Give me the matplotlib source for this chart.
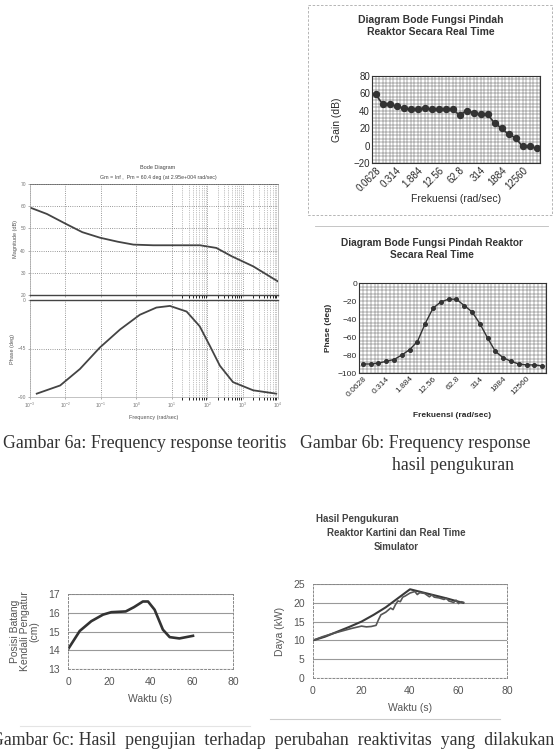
import matplotlib
matplotlib.use("Agg")
import matplotlib.pyplot as plt
from matplotlib.lines import Line2D
from matplotlib.ticker import LogLocator, MultipleLocator, FixedLocator, NullFormatter

W, H = 555, 749

# --- Gambar 6a: theoretical Bode diagram
mag_w = [0.001, 0.003, 0.011, 0.03, 0.095, 0.3, 0.83, 3, 10, 63, 182, 500, 2000, 10000]
mag_db = [59.4, 56.5, 51.8, 48.3, 45.8, 44.0, 42.7, 42.4, 42.4, 42.4, 41.2, 37.4, 32.9, 26.1]
ph_w = [0.00155, 0.0071, 0.0257, 0.093, 0.347, 1.26, 3.7, 8.9, 26.3, 61.7, 120, 229, 537, 1995, 8913]
ph_deg = [-86.9, -79.3, -64.0, -44.2, -27.4, -13.7, -7.0, -5.5, -10.7, -24.4, -42.7, -61.0, -76.2, -83.8, -86.9]

# --- Gambar 6b: measured Bode diagram (Excel category axis)
freq_labels = ["0.0628", "0.1256", "0.1884", "0.314", "0.628", "1.256", "1.884", "3.14",
               "6.28", "12.56", "18.84", "31.4", "62.8", "125.6", "188.4", "314",
               "628", "1256", "1884", "3140", "6280", "12560", "18840", "31400"]
gain_db = [59, 48, 48, 45, 43, 42, 42, 43, 42, 42, 42, 42,
           35, 40, 38, 36, 36, 26, 20, 13, 9, -1, -1, -3]
phase_deg = [-90, -90, -89, -87, -85, -80, -74, -65, -45, -28, -21, -18,
             -18, -25, -32, -45, -61, -76, -83, -87, -90, -91, -91, -92]

# --- Gambar 6c: control rod position and power
rod_t = [0, 5.7, 11.3, 17, 21, 28, 32, 36.3, 38.8, 42, 46, 49.3, 54, 60.6]
rod_cm = [14.05, 15.03, 15.55, 15.9, 16.03, 16.07, 16.3, 16.6, 16.6, 16.16, 15.1, 14.7, 14.63, 14.77]

sim_t = [0, 5, 10, 15, 20, 25, 30, 35, 40, 45, 50, 55, 60, 62]
sim_kw = [10, 11, 12.3, 13.6, 15, 16.8, 18.8, 21.2, 23.6, 22.8, 22, 21.2, 20.3, 20]
meas_t = [0, 4, 8, 12, 16, 20, 22, 24, 26, 27, 28, 30, 32, 33, 34, 35, 36, 37, 38, 40,
          42, 43, 44, 46, 48, 49, 50, 52, 54, 55, 56, 58, 59, 60, 61, 62]
meas_kw = [10, 11, 11.8, 12.5, 13.2, 13.8, 13.6, 13.7, 14, 15.5, 16.8, 17.5, 18.6, 18.2, 19.5,
           20.5, 20.3, 21.5, 21.8, 22.6, 23, 22.2, 22.7, 22.5, 21.6, 22.1, 21.5, 21.3, 20.9,
           21.2, 20.5, 20.1, 20.7, 19.8, 20.3, 20.1]


def box(l, t, r, b):
    return [l / W, 1 - b / H, (r - l) / W, (b - t) / H]


def ftext(x, y, s, **kw):
    fig.text(x / W, 1 - y / H, s, **kw)


def fline(xs, ys, **kw):
    fig.add_artist(Line2D([x / W for x in xs], [1 - y / H for y in ys],
                          transform=fig.transFigure, **kw))


plt.rcParams["font.family"] = ["Liberation Sans", "DejaVu Sans"]
fig = plt.figure(figsize=(W / 100, H / 100), dpi=100)
ink = "#2a2a2a"

# dense minor grid only on the right-hand decades, like the scanned plot
minor_w = [k * 10.0 ** e for e in (1, 2, 3) for k in range(2, 10)]

# ---------------- 6a ----------------
ax1 = fig.add_axes(box(30, 184, 278, 295))
ax1.semilogx(mag_w, mag_db, color="#444", lw=1.3)
ax1.set_xlim(1e-3, 1e4)
ax1.set_ylim(20, 70)
ax1.yaxis.set_major_locator(MultipleLocator(10))
ax1.xaxis.set_major_locator(LogLocator(base=10, numticks=12))
ax1.xaxis.set_minor_locator(FixedLocator(minor_w))
ax1.xaxis.set_major_formatter(NullFormatter())
ax1.xaxis.set_minor_formatter(NullFormatter())
ax1.set_ylabel("Magnitude (dB)", fontsize=4, color="#555", labelpad=2)

ax2 = fig.add_axes(box(30, 300, 278, 397))
ax2.semilogx(ph_w, ph_deg, color="#444", lw=1.3)
ax2.set_xlim(1e-3, 1e4)
ax2.set_ylim(-90, 0)
ax2.yaxis.set_major_locator(MultipleLocator(45))
ax2.xaxis.set_major_locator(LogLocator(base=10, numticks=12))
ax2.xaxis.set_minor_locator(FixedLocator(minor_w))
ax2.xaxis.set_minor_formatter(NullFormatter())
ax2.set_ylabel("Phase (deg)", fontsize=4, color="#555", labelpad=2)
ax2.set_xlabel("Frequency (rad/sec)", fontsize=4, color="#555", labelpad=3)

for a in (ax1, ax2):
    a.grid(which="major", linestyle=":", color="#777", lw=0.6)
    a.grid(which="minor", axis="x", linestyle=":", color="#888", lw=0.5)
    a.tick_params(labelsize=3.5, colors="#777", length=1.5, width=0.4, pad=1.5)
    for s in a.spines.values():
        s.set_color("#aaa")
        s.set_linewidth(0.5)
ax1.spines["top"].set_linestyle((0, (2, 1)))
ax1.spines["top"].set_color("#555")
ax1.spines["bottom"].set_linestyle((0, (2, 1)))
ax1.spines["bottom"].set_color("#444")
ax1.spines["bottom"].set_linewidth(1.0)
ax2.spines["top"].set_linestyle((0, (2, 1)))
ax2.spines["top"].set_color("#444")
ax2.spines["top"].set_linewidth(1.0)

ftext(158, 168, "Bode Diagram", fontsize=4, ha="center", va="center", color="#444")
ftext(158, 177, "Gm = Inf ,  Pm = 60.4 deg (at 2.95e+004 rad/sec)",
      fontsize=3.8, ha="center", va="center", color="#444")

# ---------------- 6b gain ----------------
cats = list(range(len(freq_labels)))
ax3 = fig.add_axes(box(372, 76, 540, 163))
ax3.plot(cats, gain_db, color="#333", lw=1.2, marker="o", ms=4.3, mfc="#333", mec="#333")
ax3.set_xlim(-0.5, len(cats) - 0.5)
ax3.set_ylim(-20, 80)
ax3.yaxis.set_major_locator(MultipleLocator(20))
ax3.yaxis.set_minor_locator(MultipleLocator(4))
ax3.xaxis.set_major_locator(FixedLocator(cats[::3]))
ax3.set_xticklabels(freq_labels[::3], rotation=45, ha="right", rotation_mode="anchor")
ax3.xaxis.set_minor_locator(MultipleLocator(0.5))
ax3.set_ylabel("Gain (dB)", fontsize=7.5, color=ink, labelpad=8)
ax3.set_xlabel("Frekuensi (rad/sec)", fontsize=7.5, color=ink, labelpad=1)
ftext(431, 26, "Diagram Bode Fungsi Pindah\nReaktor Secara Real Time",
      fontsize=7.5, fontweight="bold", color="#333", ha="center", va="center",
      linespacing=1.15)

# ---------------- 6b phase ----------------
ax4 = fig.add_axes(box(359, 283, 546, 373))
ax4.plot(cats, phase_deg, color="#333", lw=1.0, marker="o", ms=2.6, mfc="#333", mec="#333")
ax4.set_xlim(-0.5, len(cats) - 0.5)
ax4.set_ylim(-100, 0)
ax4.yaxis.set_major_locator(MultipleLocator(20))
ax4.yaxis.set_minor_locator(MultipleLocator(4))
ax4.xaxis.set_major_locator(FixedLocator(cats[::3]))
ax4.set_xticklabels(freq_labels[::3], rotation=45, ha="right", rotation_mode="anchor")
ax4.xaxis.set_minor_locator(MultipleLocator(0.5))
ax4.set_ylabel("Phase (deg)", fontsize=6, fontweight="bold", color=ink, labelpad=4)
ax4.set_xlabel("Frekuensi (rad/sec)", fontsize=6, fontweight="bold", color=ink, labelpad=10)
ftext(432, 249, "Diagram Bode Fungsi Pindah Reaktor\nSecara Real Time",
      fontsize=7.3, fontweight="bold", color="#333", ha="center", va="center",
      linespacing=1.2)

for a, fs in ((ax3, 7), (ax4, 6)):
    a.grid(which="both", color="#555", lw=0.35)
    a.set_axisbelow(True)
    a.tick_params(which="both", labelsize=fs, colors=ink, length=0, pad=1.5)
    for s in a.spines.values():
        s.set_color("#333")
        s.set_linewidth(0.8)

fline([308, 552, 552, 308, 308], [5, 5, 215, 215, 5], color="#aaa", lw=0.6, ls=(0, (3, 2)))
fline([315, 548], [226, 226], color="#bbb", lw=0.6)

# ---------------- captions ----------------
serif = ["Liberation Serif", "DejaVu Serif"]
ftext(3, 443, "Gambar 6a: Frequency response teoritis", family=serif, fontsize=12.8,
      va="center", ha="left", color="#333")
ftext(300, 443, "Gambar 6b: Frequency response", family=serif, fontsize=12.8,
      va="center", ha="left", color="#333")
ftext(392, 465, "hasil pengukuran", family=serif, fontsize=12.8,
      va="center", ha="left", color="#333")
ftext(-9, 732, "Gambar 6c: Hasil  pengujian  terhadap  perubahan  reaktivitas  yang  dilakukan  terhadap",
      family=serif, fontsize=12.8, va="top", ha="left", color="#333")

# ---------------- 6c rod position ----------------
ax5 = fig.add_axes(box(68, 594, 233, 669))
ax5.plot(rod_t, rod_cm, color="#333", lw=1.9)
ax5.set_xlim(0, 80)
ax5.set_ylim(13, 17)
ax5.xaxis.set_major_locator(MultipleLocator(20))
ax5.yaxis.set_major_locator(MultipleLocator(1))
ax5.set_ylabel("Posisi Batang\nKendali Pengatur\n(cm)", fontsize=7.5, color="#555",
               labelpad=6, linespacing=1.0)
ax5.set_xlabel("Waktu (s)", fontsize=7.5, color="#555", labelpad=5)

# ---------------- 6c power ----------------
ax6 = fig.add_axes(box(313, 584, 507, 678))
ax6.plot(sim_t, sim_kw, color="#3a3a3a", lw=1.5)
ax6.plot(meas_t, meas_kw, color="#555", lw=1.2)
ax6.set_xlim(0, 80)
ax6.set_ylim(0, 25)
ax6.xaxis.set_major_locator(MultipleLocator(20))
ax6.yaxis.set_major_locator(MultipleLocator(5))
ax6.set_ylabel("Daya (kW)", fontsize=7.5, color="#555", labelpad=6)
ax6.set_xlabel("Waktu (s)", fontsize=7.5, color="#555", labelpad=5)
ftext(316, 519, "Hasil Pengukuran", fontsize=7, fontweight="bold", color="#444",
      va="center", ha="left")
ftext(396, 533, "Reaktor Kartini dan Real Time", fontsize=7, fontweight="bold",
      color="#444", va="center", ha="center")
ftext(396, 547, "Simulator", fontsize=7, fontweight="bold", color="#444",
      va="center", ha="center")

for a in (ax5, ax6):
    a.grid(axis="y", color="#999", lw=0.8)
    a.tick_params(labelsize=7.5, colors="#555", length=0, pad=6)
    for s in a.spines.values():
        s.set_color("#888")
        s.set_linewidth(0.7)
        s.set_linestyle((0, (2, 2)))

fline([270, 500], [719, 719], color="#ccc", lw=0.8)
fline([20, 250], [726, 726], color="#e4e4e4", lw=0.8)

fig.savefig("out.png", dpi=100)
